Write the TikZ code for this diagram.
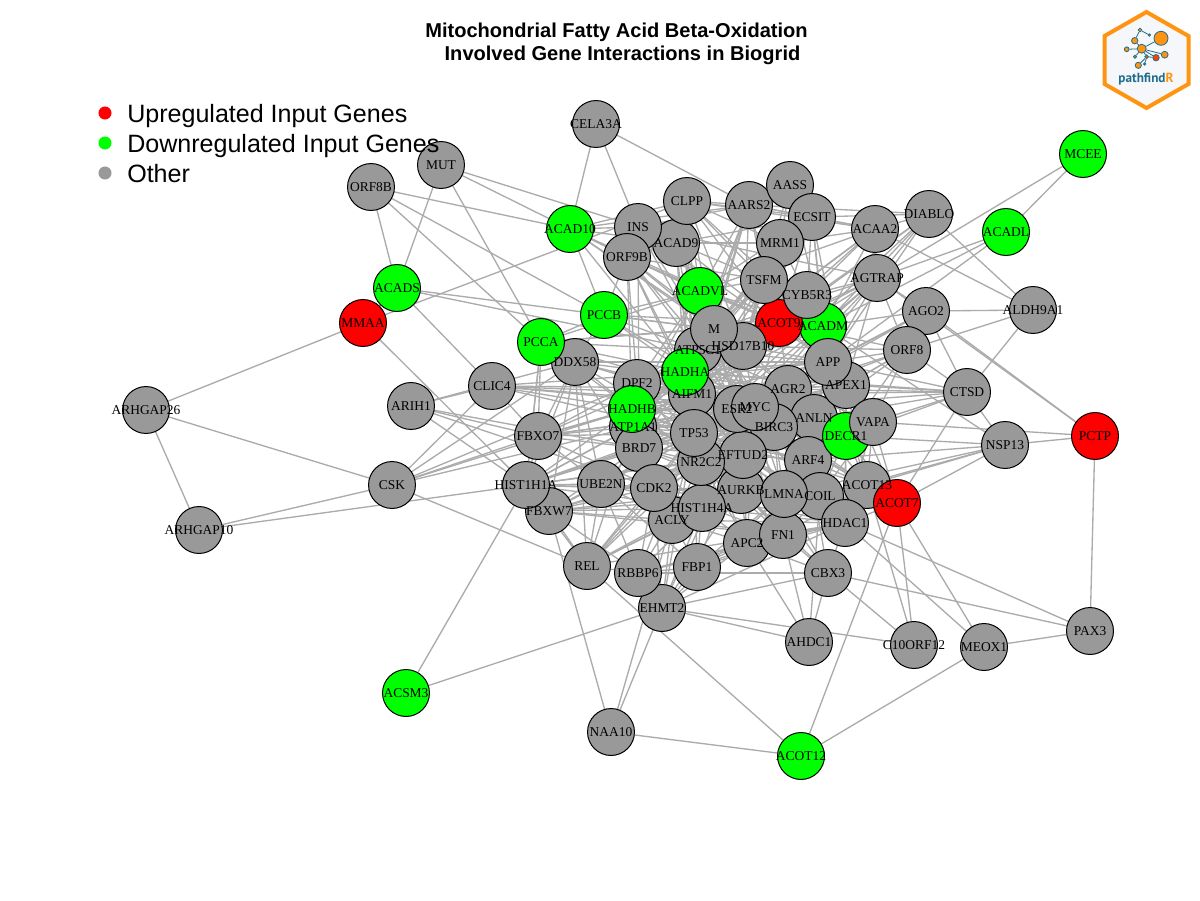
\documentclass[tikz,border=0pt]{standalone}
\usepackage{fontspec}
\setmainfont{Liberation Serif}
\newfontfamily\arialf{Liberation Sans}
\newfontfamily\logof{PT Sans}
\usetikzlibrary{backgrounds}
\definecolor{edgegray}{HTML}{ABABAB}
\definecolor{nodegray}{HTML}{999999}
\definecolor{logoorange}{HTML}{FF9410}
\definecolor{logoblue}{HTML}{1F6E8C}
\definecolor{logofill}{HTML}{F5F7FA}
\tikzset{
  gene/.style={circle,draw=black,line width=0.75pt,minimum size=35.2pt,inner sep=0pt,outer sep=0pt},
  upg/.style={fill=red},
  dng/.style={fill=green},
  otg/.style={fill=nodegray},
  genetext/.style={inner sep=0pt,font=\fontsize{10.1}{12}\selectfont,text=black},
  ppi/.style={draw=edgegray,line width=1pt},
  legdot/.style={circle,minimum size=9.8pt,inner sep=0pt,draw=none},
  legtext/.style={anchor=base west,inner sep=0pt,font=\arialf\fontsize{18.8}{20}\selectfont},
  titletext/.style={inner sep=0pt,font=\arialf\bfseries\fontsize{15.05}{18}\selectfont},
  logodot/.style={circle,draw=logoblue,line width=0.6pt,fill=logoorange,inner sep=0pt},
  logoline/.style={draw=logoblue,line width=0.6pt}
}
\begin{document}
\begin{tikzpicture}[x=0.75pt,y=-0.75pt]
\useasboundingbox (0,0) rectangle (1200,900);
\foreach \n/\x/\y/\c in {
AARS2/749/205/otg,AASS/790/185/otg,ACAA2/875/229/otg,ACAD10/570/229/dng,ACAD9/676/243/otg,
ACADL/1006/232/dng,ACADM/823/326/dng,ACADS/397/288/dng,ACADVL/700/291/dng,ACLY/672/520/otg,
ACOT12/801/756/dng,ACOT13/867/485/otg,ACOT7/897/503/upg,ACOT9/779/323/upg,ACSM3/406/693/dng,
AGO2/926/311/otg,AGR2/788/389/otg,AGTRAP/877/278/otg,AHDC1/809/642/otg,AIFM1/692/394/otg,
ALDH9A1/1033/310/otg,ANLN/814/418/otg,APC2/747/543/otg,APEX1/846/385/otg,APP/828/362/otg,
ARF4/808/460/otg,ARHGAP10/199/530/otg,ARHGAP26/146/410/otg,ARIH1/411/406/otg,ATP1A1/633/427/otg,
ATP5C1/698/350/otg,AURKB/741/490/otg,BIRC3/774/427/otg,BRD7/639/448/otg,C10ORF12/914/645/otg,
CBX3/828/573/otg,CDK2/654/488/otg,CELA3A/596/124/otg,CLIC4/492/386/otg,CLPP/687/201/otg,
COIL/820/496/otg,CSK/392/485/otg,CTSD/967/392/otg,CYB5R3/807/295/otg,DDX58/575/362/otg,
DECR1/846/436/dng,DIABLO/929/214/otg,DPF2/637/383/otg,ECSIT/812/217/otg,EFTUD2/743/455/otg,
EHMT2/662/608/otg,ESR2/737/409/otg,FBP1/697/567/otg,FBXO7/538/436/otg,FBXW7/549/511/otg,
FN1/783/535/otg,HADHA/685/372/dng,HADHB/632/409/dng,HDAC1/845/523/otg,HIST1H1A/526/485/otg,
HIST1H4A/702/508/otg,HSD17B10/743/346/otg,INS/638/227/otg,LMNA/784/494/otg,M/714/329/otg,
MCEE/1083/154/dng,MEOX1/984/647/otg,MMAA/363/323/upg,MRM1/780/243/otg,MUT/441/165/otg,
MYC/755/407/otg,NAA10/611/732/otg,NR2C2/701/462/otg,NSP13/1005/445/otg,ORF8/907/350/otg,
ORF8B/371/187/otg,ORF9B/627/257/otg,PAX3/1090/631/otg,PCCA/541/342/dng,PCCB/604/315/dng,
PCTP/1095/436/upg,RBBP6/638/573/otg,REL/587/566/otg,TP53/694/433/otg,TSFM/764/280/otg,
UBE2N/601/484/otg,VAPA/873/422/otg}
{\node[gene,\c] (\n) at (\x,\y) {};}
\begin{scope}[on background layer]
\foreach \a/\l in {
CELA3A/{ACAD10,INS,AARS2},
MUT/{ACADS,PCCA,INS,ACAD10},
ORF8B/{ACADS,ACAD10,PCCA,PCCB},
ACADS/{MMAA,CLIC4,M,ATP5C1},
MMAA/{ARHGAP26,HIST1H1A,CLPP},
ARHGAP26/{CSK,ARHGAP10},
ARHGAP10/{CSK,HIST1H1A},
CSK/{CLIC4,DDX58,REL,FBXO7,HADHB,DPF2,ATP1A1},
ACSM3/{HIST1H1A,EHMT2},
ARIH1/{CLIC4,DDX58,FBXO7,BRD7,CDK2,HIST1H1A},
NAA10/{ACOT12,FBXW7,EHMT2,ACLY},
ACOT12/{MEOX1,ACOT7,REL},
MEOX1/{ACOT7,HDAC1,PAX3},
PAX3/{PCTP,HDAC1,CBX3},
C10ORF12/{ACOT7,ACOT13,CBX3,EHMT2},
AHDC1/{EHMT2,APC2,FN1,CBX3,COIL},
CBX3/{EHMT2,RBBP6,FN1,LMNA,HDAC1,APC2,AURKB,EFTUD2,ARF4},
PCTP/{NSP13,VAPA,AGO2,AGTRAP},
ALDH9A1/{DIABLO,ACAA2,AGO2,ORF8,CTSD},
MCEE/{AGTRAP,ACADL},
ACADL/{AGTRAP,APP,ACADM},
DIABLO/{ACAA2,ECSIT,AGTRAP,ACADM,APP,HSD17B10,ACOT9,TP53},
ACAA2/{AARS2,ECSIT,MRM1,HADHA,ACADVL,ACADM,AGTRAP,HADHB,ACOT9,HSD17B10},
AGO2/{ACADM,ORF8,CTSD,APP,AGTRAP,MYC,TP53,ESR2},
ORF8/{CTSD,APP,APEX1,VAPA,DECR1,MYC,AGR2,HSD17B10,ACOT9,ANLN,BIRC3,AGTRAP},
CTSD/{NSP13,ACOT7,VAPA,APEX1,APP,DECR1,ANLN,AGR2,HADHA,ESR2,AIFM1},
NSP13/{DECR1,ACOT13,ACOT7,COIL,ARF4,ACADM,LMNA},
FBXO7/{CLIC4,PCCA,DDX58,HADHB,TP53,MYC,ATP1A1,AIFM1,HADHA,DPF2,ESR2,UBE2N,BRD7,CDK2},
CLIC4/{HADHB,AIFM1,MYC,ESR2,AGR2,TP53,APP},
DDX58/{PCCA,REL,HADHB,TP53,MYC,ESR2,UBE2N,HIST1H1A,CDK2,APP,AGR2,FBXW7},
PCCA/{PCCB,ACADVL,HADHA,HADHB,HIST1H1A,MYC,ACOT9,ATP5C1,M},
PCCB/{ACADVL,HADHA,M,ATP5C1,ACOT9,ORF9B,MYC,DDX58},
ACAD10/{ORF9B,INS,ACAD9,CLPP,AARS2,ACADVL,HADHA,M,ACOT9,HSD17B10,PCCB},
INS/{ACAD9,AARS2,ORF9B,AGTRAP,MYC,ESR2,APP,BRD7},
ORF9B/{ACAD9,HADHA,M,ACADVL,AIFM1,ATP5C1,DPF2,HADHB,HSD17B10,ACOT9,TSFM,MYC},
ACAD9/{CLPP,ACADVL,M,TSFM,MRM1,ECSIT,AIFM1,HSD17B10,ACOT9,HADHA,ATP5C1},
CLPP/{AARS2,MRM1,ECSIT,TSFM,HSD17B10,HADHA,M,ACOT9,ACADVL,ACADM,ATP5C1,AIFM1,ACAA2},
AARS2/{AASS,ECSIT,MRM1,M,HADHA,ATP5C1,TSFM,ACADVL,ACOT9,HSD17B10,AIFM1,DIABLO},
AASS/{ECSIT,MRM1,HSD17B10,ACADM},
ECSIT/{MRM1,TSFM,CYB5R3,ACADM,ACOT9,HSD17B10,M,APP,ACADVL,AIFM1,APEX1},
MRM1/{TSFM,M,HSD17B10,ACOT9,ACADM,ATP5C1,HADHA},
TSFM/{M,HSD17B10,ACOT9,ACADVL,AIFM1,HADHA,ATP5C1,CYB5R3},
AGTRAP/{CYB5R3,ACADM,ACOT9,APP,HSD17B10,M,AIFM1,MYC,TP53,APEX1,AGR2},
ACADVL/{M,HADHA,HADHB,ATP5C1,AIFM1,ACADM,ACOT9,HSD17B10,ESR2,MYC,TP53,DPF2},
ACADM/{APP,HSD17B10,M,HADHA,ATP5C1,AIFM1,MYC,APEX1,HADHB,ESR2},
ACOT9/{M,HADHA,HADHB,ESR2,MYC,TP53,APP,AGR2,ATP5C1,AIFM1,DPF2,ATP1A1},
HSD17B10/{M,ATP5C1,HADHA,HADHB,AIFM1,ESR2,MYC,TP53,APP,AGR2,DPF2,ATP1A1,BRD7,NR2C2},
M/{ATP5C1,HADHA,HADHB,AIFM1,DPF2,ESR2,MYC,TP53,BRD7,ATP1A1,AGR2,BIRC3},
ATP5C1/{HADHA,HADHB,AIFM1,TP53,MYC,ESR2,APP,AGR2,ATP1A1,DPF2,NR2C2,BIRC3},
HADHA/{HADHB,AIFM1,DPF2,ATP1A1,TP53,MYC,ESR2,BIRC3,AGR2,APP,APEX1,ANLN,EFTUD2,NR2C2},
AIFM1/{HADHB,MYC,ESR2,TP53,AGR2,APP,APEX1,ANLN,BIRC3,EFTUD2,ARF4,DECR1,VAPA,ATP1A1},
HADHB/{DPF2,ATP1A1,BRD7,TP53,MYC,ESR2,BIRC3,AGR2,NR2C2,EFTUD2,CDK2,AURKB,LMNA,ANLN},
DPF2/{TP53,ESR2,MYC,APP,AGR2,BIRC3,EFTUD2,NR2C2,ATP1A1,BRD7},
ATP1A1/{BRD7,TP53,MYC,ESR2,BIRC3,EFTUD2,NR2C2,CDK2,AGR2,ANLN,ARF4,LMNA},
BRD7/{TP53,CDK2,MYC,NR2C2,EFTUD2,ESR2,HIST1H4A,AURKB,LMNA,BIRC3,ARF4},
TP53/{MYC,ESR2,BIRC3,NR2C2,EFTUD2,CDK2,AURKB,LMNA,HIST1H4A,ACLY,ARF4,ANLN,AGR2,COIL,HDAC1,FN1,APC2,DECR1,VAPA,APEX1,APP,ACOT13},
MYC/{ESR2,BIRC3,AGR2,ANLN,APP,APEX1,VAPA,DECR1,ARF4,EFTUD2,NR2C2,AURKB,LMNA,COIL,HDAC1,ACOT13,HIST1H4A,CDK2,ACLY,FN1,APC2},
ESR2/{BIRC3,AGR2,ANLN,APP,APEX1,VAPA,DECR1,EFTUD2,NR2C2,ARF4,AURKB,LMNA,COIL,HDAC1,ACOT13,ACOT7,CDK2,HIST1H4A,FN1},
BIRC3/{AGR2,ANLN,DECR1,VAPA,APEX1,ARF4,EFTUD2,AURKB,LMNA,COIL,ACOT13,HDAC1},
AGR2/{ANLN,APP,APEX1,VAPA,DECR1,EFTUD2},
APP/{APEX1,ANLN,VAPA,DECR1,ARF4,ACOT13},
APEX1/{ANLN,VAPA,DECR1,ARF4,ACOT13,ACOT7,HDAC1},
ANLN/{VAPA,DECR1,ARF4,EFTUD2,COIL,LMNA,ACOT13},
DECR1/{VAPA,ARF4,COIL,ACOT13,ACOT7,HDAC1},
VAPA/{ACOT13,ACOT7,ARF4,COIL,HDAC1,LMNA},
ARF4/{EFTUD2,AURKB,LMNA,COIL,ACOT13,HDAC1,FN1},
EFTUD2/{NR2C2,AURKB,LMNA,CDK2,HIST1H4A,FN1,APC2,HDAC1,COIL,ACLY},
NR2C2/{AURKB,CDK2,HIST1H4A,ACLY,LMNA,FN1,APC2,HDAC1},
AURKB/{LMNA,HIST1H4A,CDK2,ACLY,FN1,APC2,COIL,HDAC1},
LMNA/{COIL,FN1,HIST1H4A,HDAC1,ACOT13,ACOT7,CDK2,ACLY,APC2},
COIL/{HDAC1,ACOT13,ACOT7,FN1,APC2},
HDAC1/{ACOT13,ACOT7,FN1,HIST1H4A,CDK2,ACLY,APC2},
REL/{FBXW7,RBBP6,UBE2N,CDK2,HDAC1,ESR2,ATP1A1,MYC,HIST1H4A,ACLY,AURKB,HIST1H1A,TP53},
FBXW7/{HIST1H1A,UBE2N,CDK2,MYC,TP53,AURKB,HIST1H4A,ACLY,RBBP6,NR2C2,BRD7,EFTUD2,FN1,LMNA},
HIST1H1A/{UBE2N,FBXO7,CDK2,TP53,BRD7,HADHB,ATP1A1,NR2C2,EFTUD2,ESR2,MYC,AIFM1,HIST1H4A,LMNA,PCCA},
UBE2N/{CDK2,BRD7,TP53,MYC,HIST1H4A,ACLY,RBBP6,FBP1,EFTUD2,ESR2},
RBBP6/{CDK2,HIST1H4A,ACLY,HDAC1,EHMT2,FBP1,APC2,TP53,FN1},
EHMT2/{FBP1,ACLY,HIST1H4A,HDAC1,APC2,CDK2,AURKB,MYC,TP53,LMNA},
FBP1/{APC2,ACLY,HIST1H4A,FN1,LMNA,TP53,HDAC1,MYC},
APC2/{FN1,ACLY,HIST1H4A},
CDK2/{ACLY,HIST1H4A,COIL,FN1},
ACLY/{HIST1H4A,FN1},
FN1/{BIRC3,ACOT13},
ACOT13/{ACOT7}}
{\foreach \b in \l {\draw[ppi] (\a) -- (\b);}}
\end{scope}
\foreach \n in {AARS2,AASS,ACAA2,ACAD10,ACAD9,ACADL,ACADM,ACADS,ACADVL,ACLY,ACOT12,ACOT13,ACOT7,ACOT9,ACSM3,AGO2,AGR2,AGTRAP,AHDC1,AIFM1,ALDH9A1,ANLN,APC2,APEX1,APP,ARF4,ARHGAP10,ARHGAP26,ARIH1,ATP1A1,ATP5C1,AURKB,BIRC3,BRD7,C10ORF12,CBX3,CDK2,CELA3A,CLIC4,CLPP,COIL,CSK,CTSD,CYB5R3,DDX58,DECR1,DIABLO,DPF2,ECSIT,EFTUD2,EHMT2,ESR2,FBP1,FBXO7,FBXW7,FN1,HADHA,HADHB,HDAC1,HIST1H1A,HIST1H4A,HSD17B10,INS,LMNA,M,MCEE,MEOX1,MMAA,MRM1,MUT,MYC,NAA10,NR2C2,NSP13,ORF8,ORF8B,ORF9B,PAX3,PCCA,PCCB,PCTP,RBBP6,REL,TP53,TSFM,UBE2N,VAPA}
{\node[genetext] (\n-t) at (\n.center) {\n};}
% title
\node[titletext] (title1) at (616.5,32) {Mitochondrial Fatty Acid Beta-Oxidation};
\node[titletext] (title2) at (622.5,55) {Involved Gene Interactions in Biogrid};
% legend
\node[legdot,fill=red] (leg1) at (105,113) {};
\node[legdot,fill=green] (leg2) at (105,143) {};
\node[legdot,fill=nodegray] (leg3) at (105,173) {};
\node[legtext] (legt1) at (127,122.5) {Upregulated Input Genes};
\node[legtext] (legt2) at (127,152.5) {Downregulated Input Genes};
\node[legtext] (legt3) at (127,182.5) {Other};
% logo
\draw[draw=logoorange,fill=logofill,line width=3pt,line join=miter] (1146.5,12)--(1188.5,36)--(1188.5,84)--(1146.5,108)--(1104.5,84)--(1104.5,36)--cycle;
\foreach \n/\x/\y/\r/\c in {
la/1161/38.3/7/logoorange,lb/1141.7/48.7/4.5/logoorange,lc/1134.7/40.7/3.2/logoorange,
ld/1140/30/1.9/logoorange,le/1149.3/35/1.2/logoorange,lf/1126.7/49.3/2.4/logoorange,
lg/1135/56.7/1.5/logoorange,lh/1146.7/56.7/1.9/orange!70!red,li/1156/57.7/3.2/orange!50!red,
lj/1164.7/54.7/3.4/logoorange,lk/1138.3/65.3/3.1/logoorange,ll/1144.7/64/1.2/orange!60!red}
{\node[logodot,fill=\c,minimum size=1.5*\r pt] (\n) at (\x,\y) {};}
\foreach \a/\b in {lb/la,lb/lc,lb/lf,lb/lg,lb/lh,lb/li,lb/lj,lc/ld,ld/le,lh/lk,lh/ll,lh/li}
{\draw[logoline] (\a) -- (\b);}
\node[inner sep=0pt,font=\logof\bfseries\fontsize{9.9}{11}\selectfont,text=logoblue] (logotext) at (1146,79.5) {pathfind\textcolor{logoorange}{R}};
\end{tikzpicture}
\end{document}
